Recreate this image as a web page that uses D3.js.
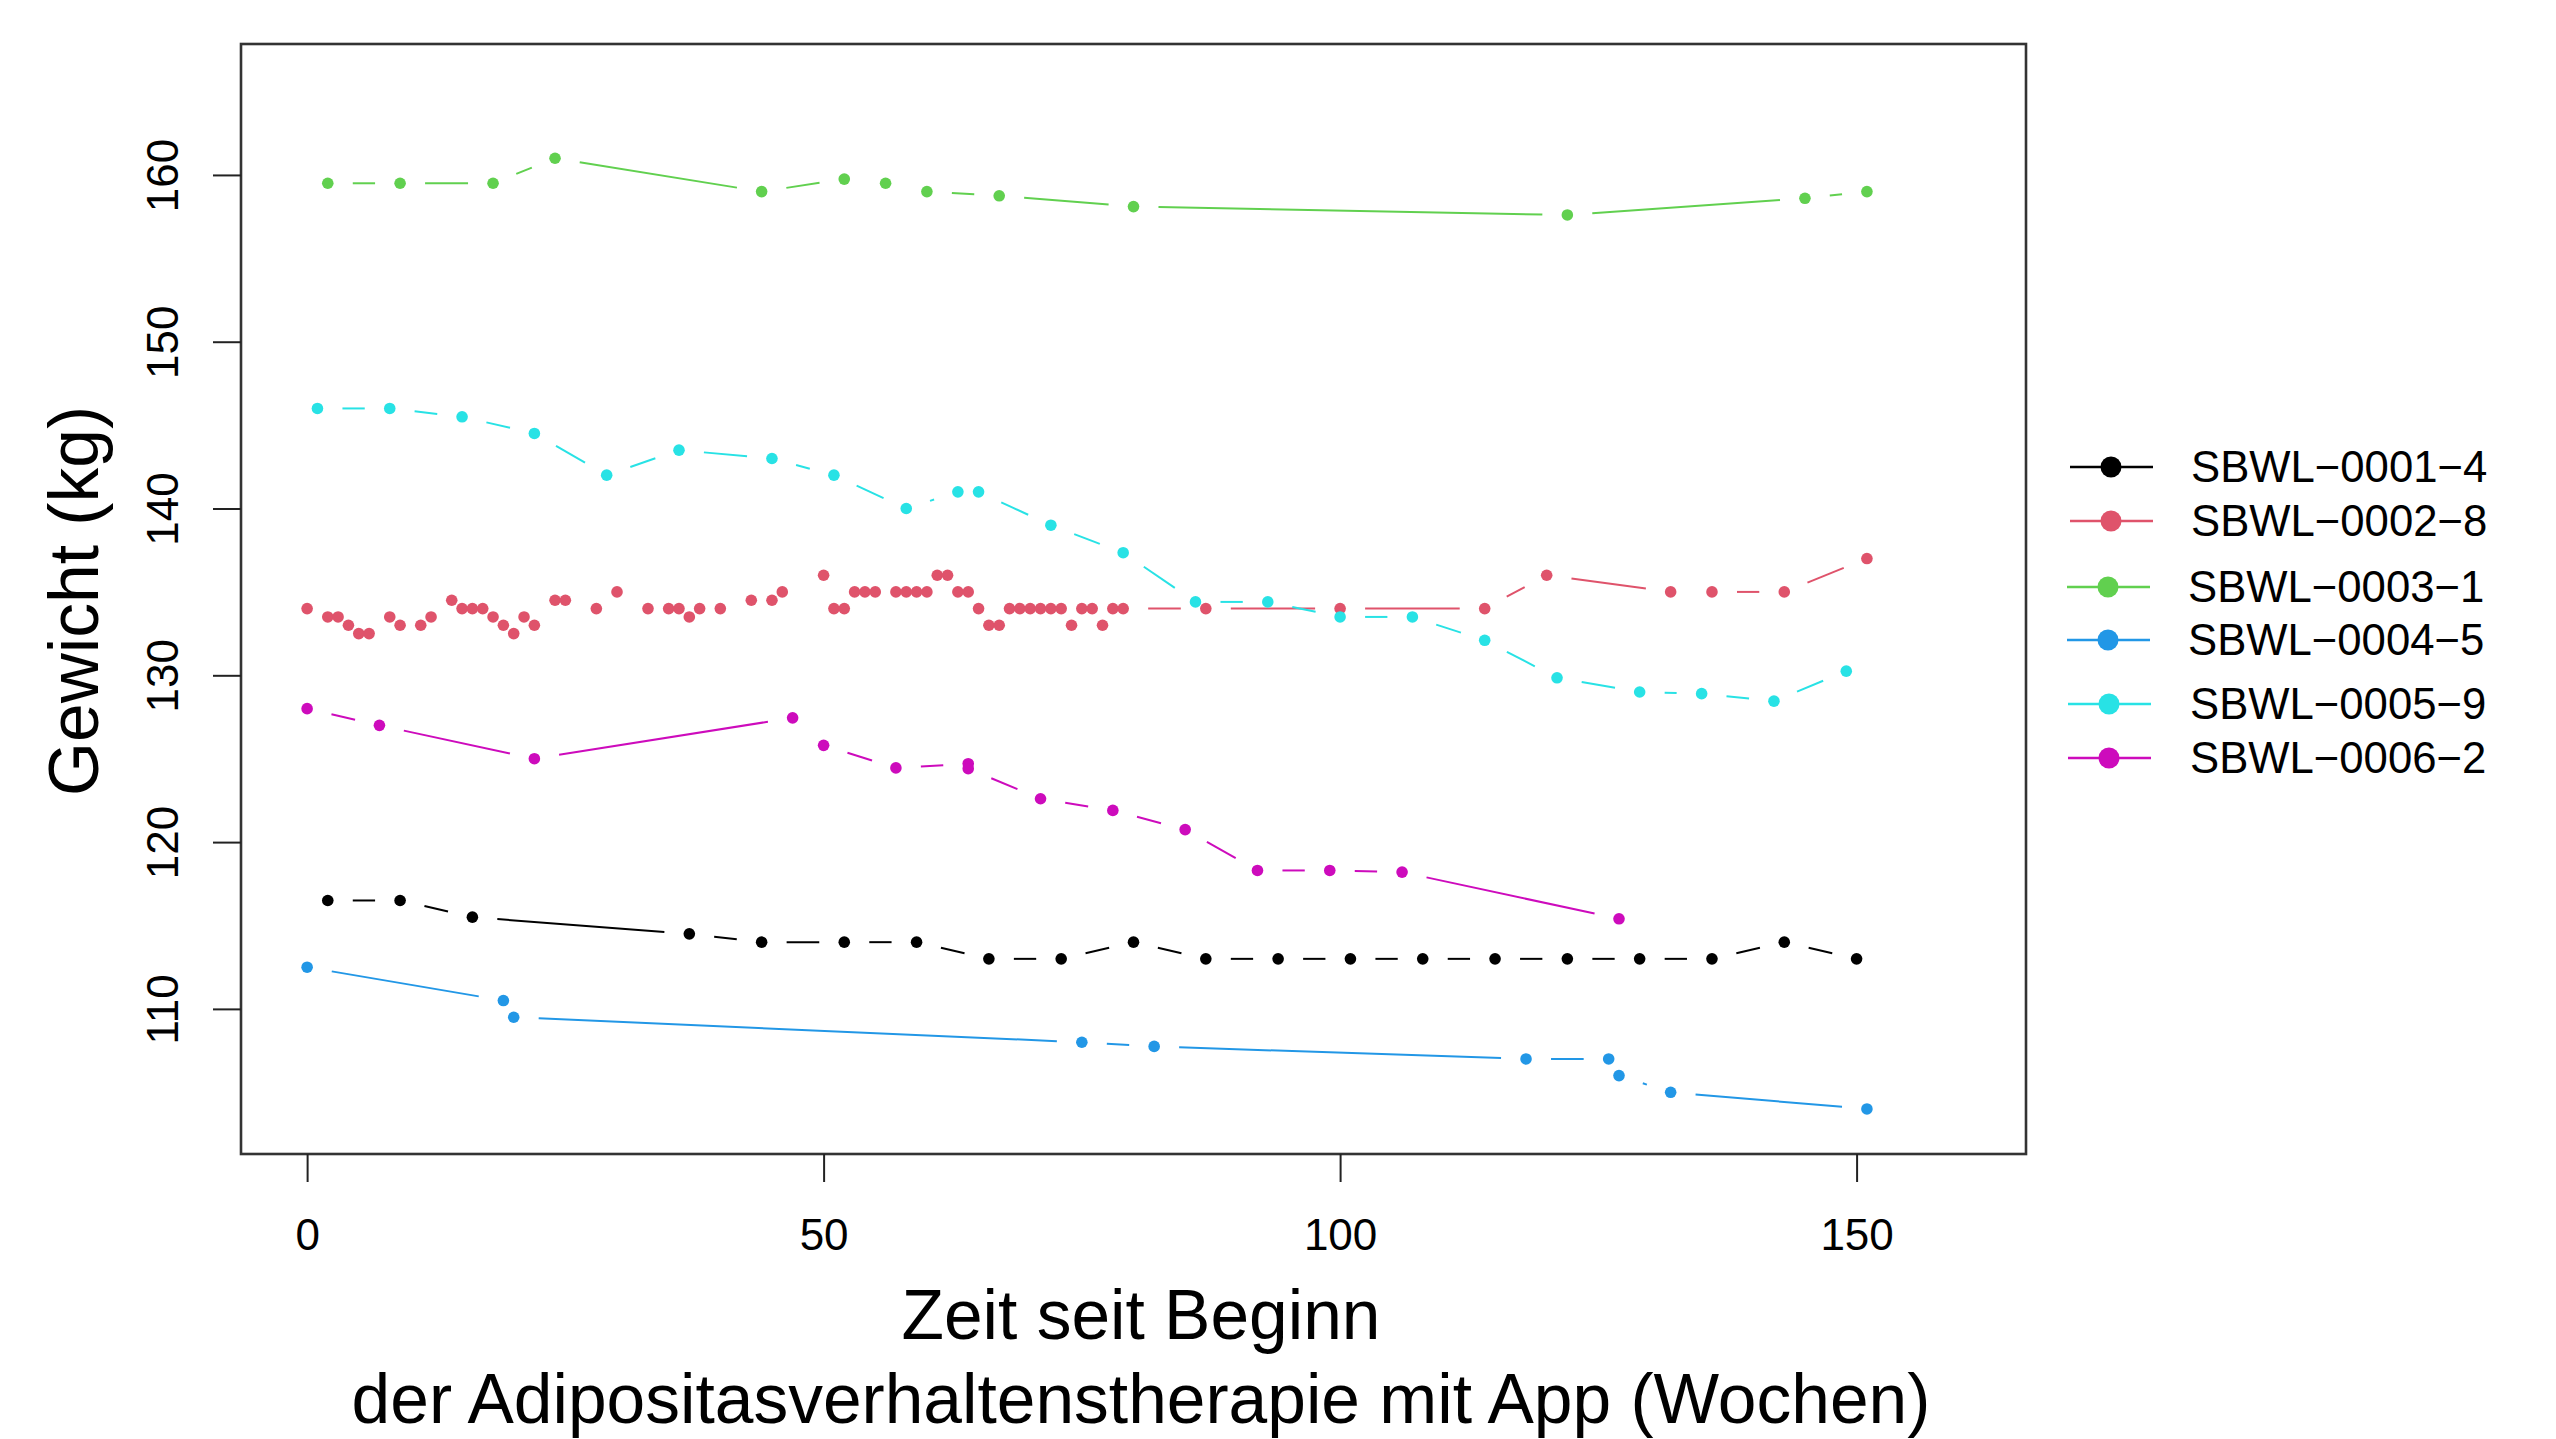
<!DOCTYPE html>
<html>
<head>
<meta charset="utf-8">
<script src="https://cdn.jsdelivr.net/npm/d3@7"></script>
<style>
  html, body { margin: 0; padding: 0; background: #fff; }
  svg { display: block; }
  text { font-family: "Liberation Sans", Arial, Helvetica, sans-serif; fill: #000; }
</style>
</head>
<body>
<svg id="chart" width="2556" height="1439"></svg>
<script>
// ---------------- data ----------------
const seriesNames = ["SBWL−0001−4", "SBWL−0002−8", "SBWL−0003−1", "SBWL−0004−5", "SBWL−0005−9", "SBWL−0006−2"];
const seriesColors = ["#000000", "#DF536B", "#61D04F", "#2297E6", "#28E2E5", "#CD0BBC"];

const weeks1 = [2, 9, 16, 37, 44, 52, 59, 66, 73, 80, 87, 94, 101, 108, 115, 122, 129, 136, 143, 150];
const values1 = [116.5, 116.5, 115.5, 114.5, 114, 114, 114, 113, 113, 114, 113, 113, 113, 113, 113, 113, 113, 113, 114, 113];

const weeks2 = [0, 2, 3, 4, 5, 6, 8, 9, 11, 12, 14, 15, 16, 17, 18, 19, 20, 21, 22, 24, 25, 28, 30, 33, 35, 36, 37, 38, 40, 43, 45, 46, 50, 51, 52, 53, 54, 55, 57, 58, 59, 60, 61, 62, 63, 64, 65, 66, 67, 68, 69, 70, 71, 72, 73, 74, 75, 76, 77, 78, 79, 87, 100, 114, 120, 132, 136, 143, 151];
const values2 = [134, 133.5, 133.5, 133, 132.5, 132.5, 133.5, 133, 133, 133.5, 134.5, 134, 134, 134, 133.5, 133, 132.5, 133.5, 133, 134.5, 134.5, 134, 135, 134, 134, 134, 133.5, 134, 134, 134.5, 134.5, 135, 136, 134, 134, 135, 135, 135, 135, 135, 135, 135, 136, 136, 135, 135, 134, 133, 133, 134, 134, 134, 134, 134, 134, 133, 134, 134, 133, 134, 134, 134, 134, 134, 136, 135, 135, 135, 137];

const weeks3 = [2, 9, 18, 24, 44, 52, 56, 60, 67, 80, 122, 145, 151];
const values3 = [159.5, 159.5, 159.5, 161, 159, 159.75, 159.5, 159, 158.75, 158.1, 157.6, 158.6, 159];

const weeks4 = [0, 19, 20, 75, 82, 118, 126, 127, 132, 151];
const values4 = [112.5, 110.5, 109.5, 108, 107.75, 107, 107, 106, 105, 104];

const weeks5 = [1, 8, 15, 22, 29, 36, 45, 51, 58, 63, 65, 72, 79, 86, 93, 100, 107, 114, 121, 129, 135, 142, 149];
const values5 = [146, 146, 145.5, 144.5, 142, 143.5, 143, 142, 140, 141, 141, 139, 137.35, 134.4, 134.4, 133.5, 133.5, 132.1, 129.85, 129, 128.9, 128.45, 130.25];

const weeks6 = [0, 7, 22, 47, 50, 57, 64, 64, 71, 78, 85, 92, 99, 106, 127];
const values6 = [128, 127, 125, 127.45, 125.8, 124.45, 124.7, 124.4, 122.6, 121.9, 120.75, 118.3, 118.3, 118.2, 115.4];

const xTicks = [0, 50, 100, 150];
const yTicks = [110, 120, 130, 140, 150, 160];
const xLabelLines = ["Zeit seit Beginn", "der Adipositasverhaltenstherapie mit App (Wochen)"];
const yLabel = "Gewicht (kg)";

// ---------------- build ----------------
const allWeeks = [weeks1, weeks2, weeks3, weeks4, weeks5, weeks6];
const allValues = [values1, values2, values3, values4, values5, values6];
const series = seriesNames.map((name, i) => ({
  name, color: seriesColors[i],
  points: allWeeks[i].map((w, j) => ({ w, v: allValues[i][j] }))
}));

const svg = d3.select("#chart");
const plot = { left: 241, right: 2026, top: 44, bottom: 1154 };

const x = d3.scaleLinear().domain([-6.4, 166.4]).range([plot.left, plot.right]);
const y = d3.scaleLinear().domain([101.3, 167.85]).range([plot.bottom, plot.top]);

// R type="b" style: segments with gaps around points
const GAP = 25;
series.forEach(s => {
  const g = svg.append("g");
  for (let j = 0; j < s.points.length - 1; j++) {
    const p1 = s.points[j], p2 = s.points[j + 1];
    const x1 = x(p1.w), y1 = y(p1.v), x2 = x(p2.w), y2 = y(p2.v);
    const d = Math.hypot(x2 - x1, y2 - y1);
    if (d <= 2 * GAP) continue;
    const ux = (x2 - x1) / d, uy = (y2 - y1) / d;
    g.append("line")
      .attr("x1", x1 + ux * GAP).attr("y1", y1 + uy * GAP)
      .attr("x2", x2 - ux * GAP).attr("y2", y2 - uy * GAP)
      .attr("stroke", s.color).attr("stroke-width", 2);
  }
  g.selectAll("circle").data(s.points).join("circle")
    .attr("cx", d => x(d.w)).attr("cy", d => y(d.v))
    .attr("r", 5.8).attr("fill", s.color);
});

// box
svg.append("rect")
  .attr("x", plot.left).attr("y", plot.top)
  .attr("width", plot.right - plot.left).attr("height", plot.bottom - plot.top)
  .attr("fill", "none").attr("stroke", "#333").attr("stroke-width", 2.6);

// x axis
const xAxis = svg.append("g").attr("transform", `translate(0,${plot.bottom})`)
  .call(d3.axisBottom(x).tickValues(xTicks).tickSize(28).tickFormat(d3.format("d")));
xAxis.select(".domain").remove();
xAxis.selectAll(".tick line").attr("stroke", "#222").attr("stroke-width", 2);
xAxis.selectAll(".tick text")
  .attr("y", 96).attr("dy", null)
  .style("font-size", "44px").style("font-family", "'Liberation Sans', Arial, sans-serif").attr("fill", "#000");

// y axis
const yAxis = svg.append("g").attr("transform", `translate(${plot.left},0)`)
  .call(d3.axisLeft(y).tickValues(yTicks).tickSize(28).tickFormat(d3.format("d")));
yAxis.select(".domain").remove();
yAxis.selectAll(".tick line").attr("stroke", "#222").attr("stroke-width", 2);
yAxis.selectAll(".tick text")
  .attr("x", null).attr("dy", null)
  .attr("text-anchor", "middle")
  .attr("transform", "translate(-63,0) rotate(-90)")
  .style("font-size", "44px").style("font-family", "'Liberation Sans', Arial, sans-serif").attr("fill", "#000");

// axis titles
const cx = 1141;
svg.append("text").attr("x", cx).attr("y", 1339).attr("text-anchor", "middle")
  .style("font-size", "69.5px").text(xLabelLines[0]);
svg.append("text").attr("x", cx).attr("y", 1423).attr("text-anchor", "middle")
  .style("font-size", "69.5px").text(xLabelLines[1]);
svg.append("text").attr("transform", `translate(98,${(plot.top + plot.bottom) / 2 + 2}) rotate(-90)`)
  .attr("text-anchor", "middle").style("font-size", "69.5px").text(yLabel);

// legend
const legendY = [467, 521, 587, 640, 704, 758];
const legendPt = [2111, 2111, 2108, 2108, 2109, 2109];
const legendTx = [2191, 2191, 2188, 2188, 2190, 2190];
const leg = svg.append("g");
series.forEach((s, i) => {
  leg.append("line").attr("x1", legendPt[i] - 41).attr("x2", legendPt[i] + 42)
    .attr("y1", legendY[i]).attr("y2", legendY[i])
    .attr("stroke", s.color).attr("stroke-width", 2.6);
  leg.append("circle").attr("cx", legendPt[i]).attr("cy", legendY[i]).attr("r", 10.5).attr("fill", s.color);
  leg.append("text").attr("x", legendTx[i]).attr("y", legendY[i] + 15)
    .style("font-size", "43.7px").text(s.name);
});
</script>
</body>
</html>
